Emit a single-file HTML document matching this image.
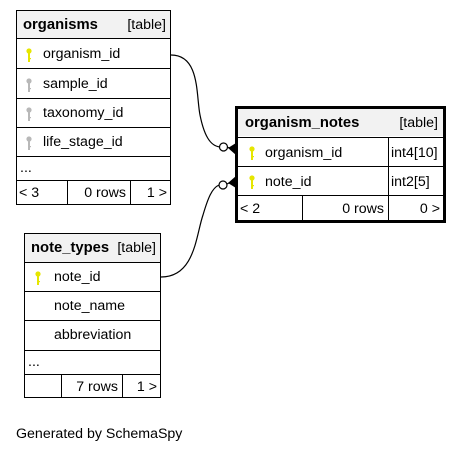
<!DOCTYPE html>
<html><head><style>body{margin:0;background:#fff}svg{display:block}</style></head><body>
<svg width="463" height="453" xmlns="http://www.w3.org/2000/svg" font-family="Liberation Sans, Arial, sans-serif" font-size="14.2">
<defs>
<g id="ky"><circle cx="0" cy="-4" r="2.6"/><rect x="-1" y="-2" width="2" height="9"/><rect x="0" y="3" width="2" height="1.2"/></g>
</defs>
<rect width="463" height="453" fill="#fff"/>
<!-- organisms -->
<g stroke="#000" stroke-width="1" fill="none">
<rect x="16.5" y="10.5" width="154" height="194" fill="#fff"/>
<rect x="17" y="11" width="153" height="28" fill="#f2f2f2" stroke="none"/>
<line x1="16" y1="38.5" x2="171" y2="38.5"/>
<line x1="16" y1="68.5" x2="171" y2="68.5"/>
<line x1="16" y1="98.5" x2="171" y2="98.5"/>
<line x1="16" y1="127.5" x2="171" y2="127.5"/>
<line x1="16" y1="156.5" x2="171" y2="156.5"/>
<line x1="16" y1="180.5" x2="171" y2="180.5"/>
<line x1="67.5" y1="180" x2="67.5" y2="205"/>
<line x1="130.5" y1="180" x2="130.5" y2="205"/>
</g>
<text x="23" y="29" font-weight="bold" font-size="14.8">organisms</text>
<text x="166" y="29" text-anchor="end">[table]</text>
<use href="#ky" x="29" y="55" fill="#e6e600"/>
<use href="#ky" x="29" y="85" fill="#b8b8b8"/>
<use href="#ky" x="29" y="114" fill="#b8b8b8"/>
<use href="#ky" x="29" y="143" fill="#b8b8b8"/>
<text x="43" y="58">organism_id</text>
<text x="43" y="88">sample_id</text>
<text x="43" y="117">taxonomy_id</text>
<text x="43" y="146">life_stage_id</text>
<text x="20" y="172">...</text>
<text x="19" y="197">&lt; 3</text>
<text x="126" y="197" text-anchor="end">0 rows</text>
<text x="167" y="197" text-anchor="end">1 &gt;</text>
<!-- organism_notes -->
<g stroke="#000" fill="none">
<rect x="236.5" y="107.5" width="208" height="114" fill="#fff" stroke-width="3"/>
<rect x="238" y="109" width="205" height="27" fill="#f2f2f2" stroke="none"/>
<line x1="237" y1="137.5" x2="444" y2="137.5"/>
<line x1="237" y1="166.5" x2="444" y2="166.5"/>
<line x1="237" y1="195.5" x2="444" y2="195.5"/>
<line x1="388.5" y1="137" x2="388.5" y2="221"/>
<line x1="302.5" y1="195" x2="302.5" y2="221"/>
</g>
<text x="245" y="127" font-weight="bold" font-size="14.8">organism_notes</text>
<text x="438" y="127" text-anchor="end">[table]</text>
<use href="#ky" x="252" y="153" fill="#e6e600"/>
<use href="#ky" x="252" y="182" fill="#e6e600"/>
<text x="265" y="157">organism_id</text>
<text x="265" y="186">note_id</text>
<text x="391" y="157">int4[10]</text>
<text x="391" y="186">int2[5]</text>
<text x="240" y="213">&lt; 2</text>
<text x="384" y="213" text-anchor="end">0 rows</text>
<text x="440" y="213" text-anchor="end">0 &gt;</text>
<!-- note_types -->
<g stroke="#000" fill="none">
<rect x="24.5" y="233.5" width="136" height="164" fill="#fff"/>
<rect x="25" y="234" width="135" height="28" fill="#f2f2f2" stroke="none"/>
<line x1="24" y1="262.5" x2="161" y2="262.5"/>
<line x1="24" y1="291.5" x2="161" y2="291.5"/>
<line x1="24" y1="320.5" x2="161" y2="320.5"/>
<line x1="24" y1="350.5" x2="161" y2="350.5"/>
<line x1="24" y1="374.5" x2="161" y2="374.5"/>
<line x1="61.5" y1="374" x2="61.5" y2="398"/>
<line x1="122.5" y1="374" x2="122.5" y2="398"/>
</g>
<text x="31" y="252" font-weight="bold" font-size="14.8">note_types</text>
<text x="156" y="252" text-anchor="end">[table]</text>
<use href="#ky" x="38" y="278" fill="#e6e600"/>
<text x="54" y="281">note_id</text>
<text x="54" y="310">note_name</text>
<text x="54" y="339">abbreviation</text>
<text x="28" y="366">...</text>
<text x="118" y="391" text-anchor="end">7 rows</text>
<text x="157" y="391" text-anchor="end">1 &gt;</text>
<!-- edges -->
<g stroke="#000" fill="none" stroke-width="1.2">
<path d="M171,55 C200,55 196,95 200,115 C204,135 210,146 220,147"/>
<path d="M161,277 C195,277 196,235 203,215 C208,198 212,188 219,185"/>
<circle cx="223.5" cy="147" r="4" fill="#fff"/>
<circle cx="223" cy="185" r="4" fill="#fff"/>
<line x1="227" y1="147" x2="235" y2="150"/>
<line x1="227" y1="184" x2="235" y2="180"/>
</g>
<polygon points="228,148 236,143 236,155" fill="#000"/>
<polygon points="228,183 236,176 236,188" fill="#000"/>
<text x="16" y="438">Generated by SchemaSpy</text>
</svg>
</body></html>
